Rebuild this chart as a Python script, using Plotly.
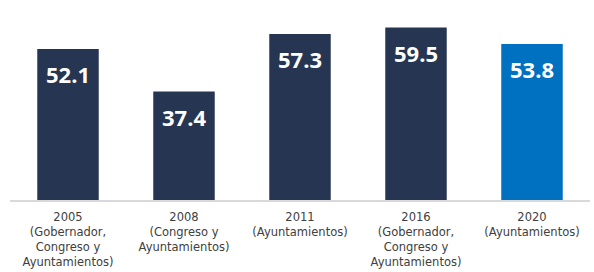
import plotly.graph_objects as go

categories = [
    "2005<br>(Gobernador,<br>Congreso y<br>Ayuntamientos)",
    "2008<br>(Congreso y<br>Ayuntamientos)",
    "2011<br>(Ayuntamientos)",
    "2016<br>(Gobernador,<br>Congreso y<br>Ayuntamientos)",
    "2020<br>(Ayuntamientos)",
]
values = [52.1, 37.4, 57.3, 59.5, 53.8]
colors = ["#263551", "#263551", "#263551", "#263551", "#0070C0"]

fig = go.Figure(go.Bar(
    x=categories, y=values, marker=dict(color=colors, line=dict(width=0)),
    hoverinfo="skip",
))
for c, v in zip(categories, values):
    fig.add_annotation(x=c, y=v, text=f"<b>{v:.1f}</b>", showarrow=False,
                       yanchor="top", yshift=-8,
                       font=dict(family="Open Sans", size=22, color="white"))

fig.update_layout(
    width=594, height=272,
    margin=dict(l=10, r=4, t=0, b=72),
    plot_bgcolor="white", paper_bgcolor="white",
    bargap=0.47, showlegend=False,
    xaxis=dict(showline=True, linecolor="#d9d9d9", linewidth=2, ticks="",
               automargin=False, ticklabelstandoff=5,
               tickfont=dict(family="DejaVu Sans", size=11.5, color="#404040")),
    yaxis=dict(range=[0, 69], visible=False, automargin=False),
)
fig.write_html("out.html", config={"displayModeBar": False},
               post_script="document.body.style.margin='0';")
